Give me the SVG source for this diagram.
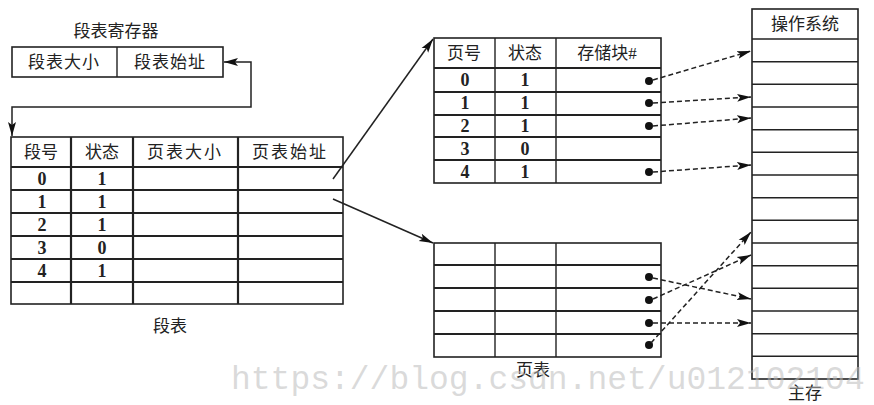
<svg xmlns="http://www.w3.org/2000/svg" width="874" height="405" viewBox="0 0 874 405">
<style>
.bg{fill:#fff}
.box{fill:#fff;stroke:#222;stroke-width:1.6}
.ln{stroke:#222;stroke-width:1.4;fill:none}
.rl{stroke:#222;stroke-width:2.2;fill:none}
.t{font-family:"Liberation Serif","Noto Sans CJK SC",serif;font-size:17px;fill:#222;text-anchor:middle;dominant-baseline:central}
.n{font-family:"Liberation Serif","Noto Sans CJK SC",serif;font-size:18px;font-weight:bold;fill:#222;text-anchor:middle;dominant-baseline:central}
.c{stroke:#222;stroke-width:1.5;fill:none}
.d{stroke:#222;stroke-width:1.5;fill:none;stroke-dasharray:5 3}
.dot{fill:#111}
.wm{font-family:"Liberation Mono",monospace;font-size:33px;fill:#bbb;fill-opacity:0.55}
</style>
<defs>
<marker id="ah" markerUnits="userSpaceOnUse" markerWidth="16" markerHeight="10" refX="14" refY="5" orient="auto-start-reverse">
<path d="M0,1 L14,5 L0,9 L3,5 z" fill="#111"/>
</marker>
</defs>
<rect class="bg" x="0" y="0" width="874" height="405"/>

<g id="register">
<text class="t" x="116" y="31" font-size="19">段表寄存器</text>
<rect class="box" x="12" y="47" width="211" height="30"/>
<line class="ln" x1="117" y1="47" x2="117" y2="77"/>
<text class="t" x="64" y="62" letter-spacing="1">段表大小</text>
<text class="t" x="170" y="62" letter-spacing="1">段表始址</text>
</g>

<g id="segment-table">
<rect class="box" x="11" y="137" width="332" height="167"/>
<line class="rl" x1="11" y1="167" x2="343" y2="167"/>
<line class="rl" x1="11" y1="190" x2="343" y2="190"/>
<line class="rl" x1="11" y1="213" x2="343" y2="213"/>
<line class="rl" x1="11" y1="236" x2="343" y2="236"/>
<line class="rl" x1="11" y1="259" x2="343" y2="259"/>
<line class="rl" x1="11" y1="282" x2="343" y2="282"/>
<line class="rl" x1="71" y1="137" x2="71" y2="304"/>
<line class="rl" x1="133" y1="137" x2="133" y2="304"/>
<line class="rl" x1="238" y1="137" x2="238" y2="304"/>
<text class="t" x="41" y="152">段号</text>
<text class="t" x="102" y="152">状态</text>
<text class="t" x="185" y="152" letter-spacing="2">页表大小</text>
<text class="t" x="290" y="152" letter-spacing="2">页表始址</text>
<text class="n" x="42" y="179">0</text><text class="n" x="102" y="179">1</text>
<text class="n" x="42" y="202">1</text><text class="n" x="102" y="202">1</text>
<text class="n" x="42" y="225">2</text><text class="n" x="102" y="225">1</text>
<text class="n" x="42" y="248">3</text><text class="n" x="102" y="248">0</text>
<text class="n" x="42" y="271">4</text><text class="n" x="102" y="271">1</text>
<text class="t" x="170" y="326">段表</text>
</g>

<g id="page-table-1">
<rect class="box" x="434" y="38" width="227" height="145"/>
<line class="rl" x1="434" y1="68" x2="661" y2="68"/>
<line class="rl" x1="434" y1="92" x2="661" y2="92"/>
<line class="rl" x1="434" y1="115" x2="661" y2="115"/>
<line class="rl" x1="434" y1="137" x2="661" y2="137"/>
<line class="rl" x1="434" y1="160" x2="661" y2="160"/>
<line class="ln" x1="495" y1="38" x2="495" y2="183"/>
<line class="ln" x1="556" y1="38" x2="556" y2="183"/>
<text class="t" x="464" y="53">页号</text>
<text class="t" x="525" y="53">状态</text>
<text class="t" x="607" y="53">存储块#</text>
<text class="n" x="465" y="80">0</text><text class="n" x="525" y="80">1</text>
<text class="n" x="465" y="103">1</text><text class="n" x="525" y="103">1</text>
<text class="n" x="465" y="126">2</text><text class="n" x="525" y="126">1</text>
<text class="n" x="465" y="149">3</text><text class="n" x="525" y="149">0</text>
<text class="n" x="465" y="172">4</text><text class="n" x="525" y="172">1</text>
<circle class="dot" cx="649" cy="81" r="4"/>
<circle class="dot" cx="649" cy="103" r="4"/>
<circle class="dot" cx="649" cy="126" r="4"/>
<circle class="dot" cx="649" cy="172" r="4"/>
</g>

<g id="page-table-2">
<rect class="box" x="434" y="243" width="227" height="114"/>
<line class="rl" x1="434" y1="265" x2="661" y2="265"/>
<line class="rl" x1="434" y1="288" x2="661" y2="288"/>
<line class="rl" x1="434" y1="311" x2="661" y2="311"/>
<line class="rl" x1="434" y1="334" x2="661" y2="334"/>
<line class="ln" x1="495" y1="243" x2="495" y2="357"/>
<line class="ln" x1="556" y1="243" x2="556" y2="357"/>
<circle class="dot" cx="649" cy="277" r="4"/>
<circle class="dot" cx="649" cy="300" r="4"/>
<circle class="dot" cx="649" cy="323" r="4"/>
<circle class="dot" cx="649" cy="345" r="4"/>
<text class="t" x="533" y="370">页表</text>
</g>

<g id="main-memory">
<rect class="box" x="752" y="9" width="106" height="370"/>
<line class="ln" x1="752" y1="39" x2="858" y2="39"/>
<line class="ln" x1="752" y1="61.7" x2="858" y2="61.7"/>
<line class="ln" x1="752" y1="84.3" x2="858" y2="84.3"/>
<line class="ln" x1="752" y1="107" x2="858" y2="107"/>
<line class="ln" x1="752" y1="129.7" x2="858" y2="129.7"/>
<line class="ln" x1="752" y1="152.3" x2="858" y2="152.3"/>
<line class="ln" x1="752" y1="175" x2="858" y2="175"/>
<line class="ln" x1="752" y1="197.7" x2="858" y2="197.7"/>
<line class="ln" x1="752" y1="220.3" x2="858" y2="220.3"/>
<line class="ln" x1="752" y1="243" x2="858" y2="243"/>
<line class="ln" x1="752" y1="265.7" x2="858" y2="265.7"/>
<line class="ln" x1="752" y1="288.3" x2="858" y2="288.3"/>
<line class="ln" x1="752" y1="311" x2="858" y2="311"/>
<line class="ln" x1="752" y1="333.7" x2="858" y2="333.7"/>
<line class="ln" x1="752" y1="356.3" x2="858" y2="356.3"/>
<text class="t" x="805" y="24">操作系统</text>
<text class="t" x="805" y="393">主存</text>
</g>

<g id="connectors">
<polyline class="c" points="224,62 251,62 251,107 12,107 12,136" marker-start="url(#ah)" marker-end="url(#ah)"/>
<line class="c" x1="333" y1="179" x2="433" y2="39" marker-end="url(#ah)"/>
<line class="c" x1="333" y1="199" x2="433" y2="243" marker-end="url(#ah)"/>
<line class="d" x1="653" y1="80" x2="751" y2="51" marker-end="url(#ah)"/>
<line class="d" x1="653" y1="103" x2="751" y2="97" marker-end="url(#ah)"/>
<line class="d" x1="653" y1="126" x2="751" y2="118" marker-end="url(#ah)"/>
<line class="d" x1="653" y1="172" x2="751" y2="165" marker-end="url(#ah)"/>
<line class="d" x1="653" y1="278" x2="751" y2="299" marker-end="url(#ah)"/>
<line class="d" x1="653" y1="299" x2="751" y2="255" marker-end="url(#ah)"/>
<line class="d" x1="653" y1="323" x2="751" y2="323" marker-end="url(#ah)"/>
<line class="d" x1="651" y1="343" x2="751" y2="232" marker-end="url(#ah)"/>
</g>

<text class="wm" x="231" y="389">https://blog.csdn.net/u012102104</text>
</svg>
